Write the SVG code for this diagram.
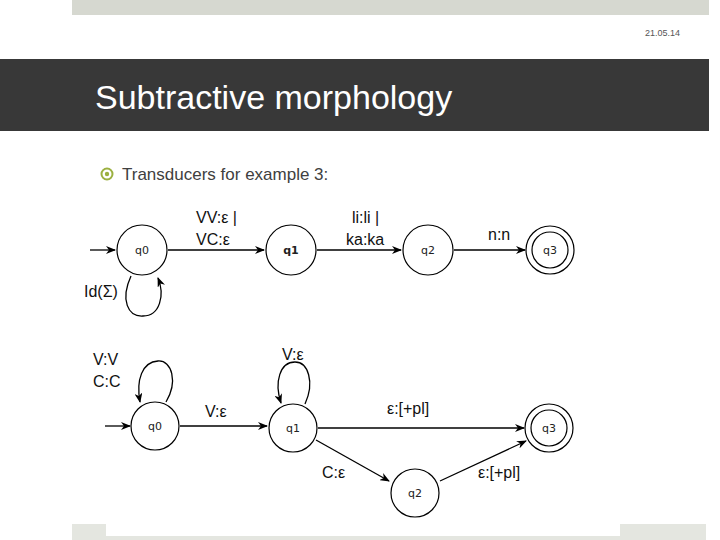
<svg xmlns="http://www.w3.org/2000/svg" width="720" height="540" viewBox="0 0 720 540">
<style>
.s{fill:#fff;stroke:#000;stroke-width:1.2}
.e{fill:none;stroke:#000;stroke-width:1.3}
.n{font-family:"DejaVu Sans",sans-serif;font-size:11px;text-anchor:middle;fill:#222}
.l{font-family:"Liberation Sans",Arial,sans-serif;font-size:16px;fill:#111}
</style>
<defs><marker id="a" markerWidth="10" markerHeight="8" refX="9" refY="4" orient="auto" markerUnits="userSpaceOnUse"><path d="M0,0 L10,4 L0,8 L3,4z" fill="#000"/></marker></defs>
<rect width="720" height="540" fill="#fff"/>
<rect x="72" y="0" width="637" height="15" fill="#d6d8d0"/>
<text x="680" y="36" font-family="Liberation Sans,sans-serif" font-size="9" fill="#555" text-anchor="end">21.05.14</text>
<rect x="0" y="59" width="709" height="72" fill="#383838"/>
<text x="95" y="109" font-family="Liberation Sans,Arial,sans-serif" font-size="34" fill="#fff">Subtractive morphology</text>
<circle cx="107" cy="174" r="5.5" fill="none" stroke="#9bb040" stroke-width="2"/><circle cx="107" cy="174" r="2.2" fill="#9bb040"/>
<text x="122" y="180" font-family="Liberation Sans,Arial,sans-serif" font-size="17" fill="#404040">Transducers for example 3:</text>
<rect x="72" y="524" width="34" height="16" fill="#e4e6e0"/><rect x="620" y="524" width="86" height="16" fill="#e4e6e0"/><rect x="106" y="536" width="514" height="4" fill="#e4e6e0"/>
<g id="edges">
<path class="e" d="M90,250 H115" marker-end="url(#a)"/>
<path class="e" d="M168,250 H264" marker-end="url(#a)"/>
<path class="e" d="M317,250 H401" marker-end="url(#a)"/>
<path class="e" d="M454,250 H525" marker-end="url(#a)"/>
<path class="e" d="M131,276 C120,300 128,317 143,316 C160,316 165,295 158,278" marker-end="url(#a)"/>
<path class="e" d="M105,426 H130" marker-end="url(#a)"/>
<path class="e" d="M180,426 H267" marker-end="url(#a)"/>
<path class="e" d="M166,402 C178,382 172,360 158,361 C142,362 136,380 140,402" marker-end="url(#a)"/>
<path class="e" d="M305,404 C315,382 308,362 295,362 C280,362 274,382 281,403" marker-end="url(#a)"/>
<path class="e" d="M318,428 H524" marker-end="url(#a)"/>
<path class="e" d="M316,440 L389,481" marker-end="url(#a)"/>
<path class="e" d="M440,481 L526,441" marker-end="url(#a)"/>
</g>
<g id="labels">
<text class="l" x="196" y="223">VV:ε  |</text><text class="l" x="196" y="245">VC:ε</text>
<text class="l" x="352" y="223">li:li |</text><text class="l" x="346" y="245">ka:ka</text>
<text class="l" x="488" y="240">n:n</text>
<text class="l" x="84" y="297">Id(Σ)</text>
<text class="l" x="93" y="365">V:V</text><text class="l" x="93" y="387">C:C</text>
<text class="l" x="282" y="360">V:ε</text>
<text class="l" x="205" y="417">V:ε</text>
<text class="l" x="387" y="414">ε:[+pl]</text>
<text class="l" x="322" y="478">C:ε</text>
<text class="l" x="478" y="478">ε:[+pl]</text>
</g>
<g id="t_q0"><circle class="s" cx="142" cy="250" r="25"/><text class="n" x="142" y="254">q0</text></g>
<g id="t_q1"><circle class="s" cx="291" cy="250" r="25"/><text class="n" x="291" y="254" font-weight="bold">q1</text></g>
<g id="t_q2"><circle class="s" cx="428" cy="250" r="25"/><text class="n" x="428" y="254">q2</text></g>
<g id="t_q3"><circle class="s" cx="550" cy="250" r="24"/><circle class="s" cx="550" cy="250" r="18"/><text class="n" x="550" y="254">q3</text></g>
<g id="b_q0"><circle class="s" cx="155" cy="426" r="24"/><text class="n" x="155" y="430">q0</text></g>
<g id="b_q1"><circle class="s" cx="293" cy="428" r="24"/><text class="n" x="293" y="432">q1</text></g>
<g id="b_q2"><circle class="s" cx="415" cy="493" r="24"/><text class="n" x="415" y="497">q2</text></g>
<g id="b_q3"><circle class="s" cx="549" cy="428" r="24"/><circle class="s" cx="549" cy="428" r="18"/><text class="n" x="549" y="432">q3</text></g>
</svg>
